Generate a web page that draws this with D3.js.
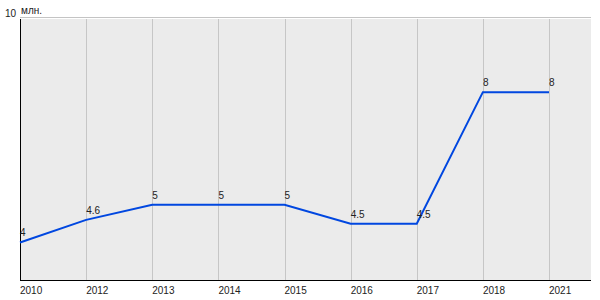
<!DOCTYPE html>
<html>
<head>
<meta charset="utf-8">
<script src="https://cdn.jsdelivr.net/npm/d3@7"></script>
<style>
  body { margin: 0; background: #fff; }
  text { font-family: "Liberation Sans", Arial, sans-serif; font-size: 10px; fill: #222; }
</style>
</head>
<body>
<div id="chart"></div>
<script>
  var years = ["2010", "2012", "2013", "2014", "2015", "2016", "2017", "2018", "2021"];
  var values = [4, 4.6, 5, 5, 5, 4.5, 4.5, 8, 8];
  var valueLabels = ["4", "4.6", "5", "5", "5", "4.5", "4.5", "8", "8"];

  var w = 600, h = 300;
  var margin = { top: 19, right: 9, bottom: 20, left: 20 };

  var svg = d3.select("#chart").append("svg")
    .attr("width", w)
    .attr("height", h);

  var x = d3.scalePoint()
    .domain(years)
    .range([margin.left, 549]);

  var y = d3.scaleLinear()
    .domain([3, 10])
    .range([h - margin.bottom, margin.top - 2]);

  // plot background
  svg.append("rect")
    .attr("x", margin.left)
    .attr("y", margin.top)
    .attr("width", w - margin.right - margin.left)
    .attr("height", h - margin.bottom - margin.top)
    .style("fill", "#ebebeb");

  // top line
  svg.append("line")
    .attr("x1", margin.left).attr("x2", w - margin.right)
    .attr("y1", 17.5).attr("y2", 17.5)
    .style("stroke", "#c4c4c4");

  // vertical grid
  svg.selectAll(".grid")
    .data(years.slice(1))
    .enter()
    .append("line")
    .attr("class", "grid")
    .attr("x1", function(d){ return Math.round(x(d)) + 0.5 })
    .attr("x2", function(d){ return Math.round(x(d)) + 0.5 })
    .attr("y1", margin.top)
    .attr("y2", h - margin.bottom)
    .style("stroke", "#c6c6c6");

  // axes
  svg.append("line")
    .attr("x1", margin.left + 0.5).attr("x2", margin.left + 0.5)
    .attr("y1", margin.top).attr("y2", h - margin.bottom)
    .style("stroke", "#000");
  svg.append("line")
    .attr("x1", margin.left).attr("x2", w - margin.right)
    .attr("y1", h - margin.bottom + 0.5).attr("y2", h - margin.bottom + 0.5)
    .style("stroke", "#000");

  // y labels
  svg.append("text")
    .attr("x", 5).attr("y", 17)
    .text("10");
  svg.append("text")
    .attr("x", 21).attr("y", 14)
    .text("млн.");

  // x tick labels
  svg.selectAll(".tick-label")
    .data(years)
    .enter()
    .append("text")
    .attr("class", "tick-label")
    .attr("x", function(d){ return x(d) })
    .attr("y", 294)
    .text(function(d){ return d });

  var line = d3.line()
    .x(function(d, i){ return x(years[i]) })
    .y(function(d){ return y(d) });

  svg.append("path")
    .datum(values)
    .attr("d", line)
    .style("fill", "none")
    .style("stroke", "#0047e0")
    .style("stroke-width", 2);

  svg.selectAll(".val")
    .data(values)
    .enter()
    .append("text")
    .attr("class", "val")
    .attr("x", function(d, i){ return x(years[i]) })
    .attr("y", function(d){ return y(d) - 6 })
    .text(function(d, i){ return valueLabels[i] });
</script>
</body>
</html>
